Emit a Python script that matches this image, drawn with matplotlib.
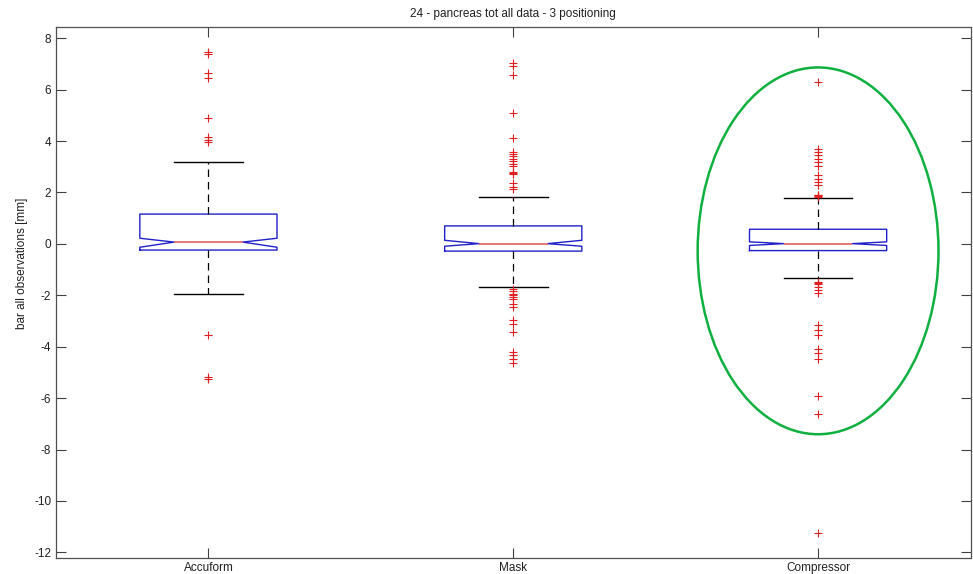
import matplotlib
matplotlib.use('Agg')
import matplotlib.pyplot as plt
from matplotlib.patches import Ellipse

# groups and box statistics (mm)
groups = ["Accuform", "Mask", "Compressor"]
medians = [0.07, 0.01, 0.01]
q1s = [-0.24, -0.28, -0.26]
q3s = [1.16, 0.70, 0.57]
notch_lo = [-0.13, -0.09, -0.06]
notch_hi = [0.22, 0.14, 0.08]
whisk_lo = [-1.96, -1.66, -1.33]
whisk_hi = [3.19, 1.82, 1.78]

# outliers
fliers_accuform = [7.47, 7.38, 6.63, 6.44, 4.90, 4.16, 4.06, 3.97,
                   -3.55, -5.17, -5.24]
fliers_mask = [7.02, 6.91, 6.59, 5.11, 4.12, 3.58, 3.50, 3.41, 3.30, 3.22,
               3.10, 3.03, 2.80, 2.76, 2.72, 2.35, 2.22, 2.12,
               -1.74, -1.83, -1.95, -2.00, -2.06, -2.16, -2.32, -2.47,
               -2.97, -3.10, -3.42, -4.20, -4.33, -4.46, -4.65]
fliers_compressor = [6.28, 3.71, 3.58, 3.45, 3.32, 3.19, 3.02, 2.67, 2.54,
                     2.41, 2.28, 1.92, 1.89, 1.86, 1.83,
                     -1.48, -1.53, -1.57, -1.67, -1.80, -1.91, -3.16, -3.36,
                     -3.55, -4.07, -4.26, -4.46, -5.93, -6.63, -11.26]
fliers = [fliers_accuform, fliers_mask, fliers_compressor]

plt.rcParams['font.family'] = ['Liberation Sans', 'DejaVu Sans']
plt.rcParams['axes.unicode_minus'] = False

stats = []
for i, name in enumerate(groups):
    stats.append({
        "label": name,
        "med": medians[i],
        "q1": q1s[i],
        "q3": q3s[i],
        "cilo": notch_lo[i],
        "cihi": notch_hi[i],
        "whislo": whisk_lo[i],
        "whishi": whisk_hi[i],
        "fliers": fliers[i],
    })

fig = plt.figure(figsize=(9.73, 5.74), dpi=100)
ax = fig.add_axes([56 / 973, 16 / 574, 914.5 / 973, 531.3 / 574])

ax.bxp(stats, positions=[1, 2, 3], widths=0.45, shownotches=True,
       boxprops=dict(color='#2020c8', linewidth=1.0),
       medianprops=dict(color='#e06060', linewidth=1.2),
       whiskerprops=dict(color='black', linestyle=(0, (6, 4)), linewidth=0.9),
       capprops=dict(color='black', linewidth=1.0),
       flierprops=dict(marker='+', markeredgecolor='#e02020', markersize=6,
                       markeredgewidth=0.8, linestyle='none'))

# highlight around the Compressor group
ax.add_patch(Ellipse((3.0, -0.27), 0.79, 14.27, fill=False,
                     edgecolor='#10b040', linewidth=1.8))

ax.set_xlim(0.5, 3.5)
ax.set_ylim(-12.22, 8.45)
ax.set_yticks(range(-12, 9, 2))
ax.set_xticks([1, 2, 3])
ax.set_xticklabels(groups)
ax.tick_params(direction='in', length=7, width=0.8, colors='#404040',
               labelcolor='#202020', labelsize=8.5, top=True, right=True,
               labelright=False, labeltop=False)
ax.tick_params(axis='x', pad=3)
for sp in ax.spines.values():
    sp.set_color('#505050')
    sp.set_linewidth(0.9)

ax.set_title("24 - pancreas tot all data - 3 positioning", fontsize=8.5,
             color='#202020', pad=7)
ax.set_ylabel("bar all observations [mm]", fontsize=8.5, color='#202020')
ax.yaxis.set_label_coords(-0.0305, (558 - 263) / 531.3)

fig.savefig("out.png", dpi=100)
